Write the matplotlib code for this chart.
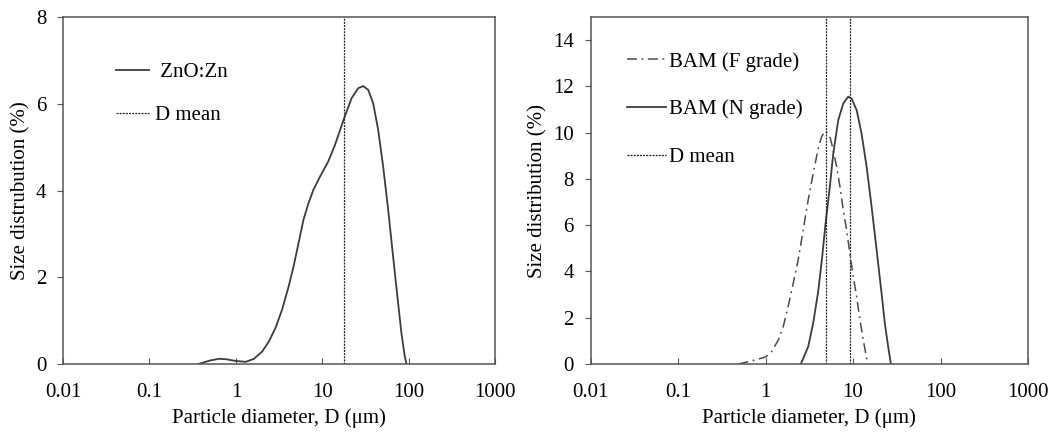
import numpy as np
import matplotlib.pyplot as plt
from matplotlib.ticker import FixedLocator, NullLocator

plt.rcParams['font.family'] = ['Liberation Serif', 'DejaVu Serif']
plt.rcParams['font.size'] = 15

# ZnO:Zn particle size distribution
d_zno = [0.37, 0.5, 0.64, 0.77, 1.0, 1.30, 1.62, 2.02, 2.41, 2.87, 3.42, 4.08,
         4.65, 5.31, 6.06, 6.92, 7.9, 9.4, 11.7, 14.0, 17.9, 21.8, 26.0, 29.7,
         34.0, 38.8, 44.3, 50.6, 57.8, 65.9, 75.3, 82.3, 89.9, 94.0]
p_zno = [0.0, 0.08, 0.12, 0.11, 0.07, 0.05, 0.12, 0.29, 0.52, 0.83, 1.25, 1.79,
         2.25, 2.79, 3.33, 3.71, 4.02, 4.32, 4.67, 5.05, 5.67, 6.13, 6.36, 6.41,
         6.32, 6.01, 5.40, 4.55, 3.56, 2.48, 1.41, 0.71, 0.18, 0.0]
dmean_zno = 18.0

# BAM phosphor, F grade and N grade
d_bam_f = [0.49, 0.7, 1.0, 1.17, 1.40, 1.59, 1.81, 2.07, 2.36, 2.69, 3.07,
           3.50, 4.0, 4.37, 4.8, 5.44, 5.94, 6.49, 7.08, 7.73, 8.44, 9.2,
           10.05, 11.0, 12.0, 13.1, 14.7]
p_bam_f = [0.0, 0.14, 0.30, 0.53, 1.04, 1.61, 2.48, 3.49, 4.50, 5.79, 7.09,
           8.24, 9.32, 9.83, 10.08, 9.83, 9.25, 8.53, 7.67, 6.66, 5.79, 4.78,
           3.78, 2.91, 1.90, 1.04, 0.0]
d_bam_n = [2.53, 3.07, 3.50, 4.0, 4.44, 4.85, 5.44, 5.94, 6.78, 7.73, 8.81,
           9.62, 11.0, 12.5, 14.3, 16.3, 18.6, 21.2, 23.1, 25.2, 27.1]
p_bam_n = [0.0, 0.75, 1.76, 3.15, 4.64, 6.08, 7.70, 9.10, 10.55, 11.27, 11.56,
           11.48, 10.98, 9.97, 8.53, 6.80, 4.93, 3.05, 1.76, 0.75, 0.0]
dmean_bam = [4.85, 9.3]

xticks = [0.01, 0.1, 1, 10, 100, 1000]
xlabels = ['0.01', '0.1', '1', '10', '100', '1000']

line_col = '#3c3c3c'
frame_col = '#555555'

fig = plt.figure(figsize=(10.54, 4.32), dpi=100)
ax1 = fig.add_axes([0.0598, 0.1574, 0.41, 0.803])
ax2 = fig.add_axes([0.5604, 0.1574, 0.4149, 0.803])


def style_axes(ax, ymax, ystep):
    ax.set_xscale('log')
    ax.set_xlim(0.01, 1000)
    ax.set_ylim(0, ymax)
    ax.xaxis.set_major_locator(FixedLocator(xticks))
    ax.xaxis.set_minor_locator(NullLocator())
    ax.set_xticklabels(xlabels)
    ax.set_yticks(np.arange(0, ymax + 0.01, ystep))
    ax.tick_params(axis='x', direction='in', length=4.5, width=0.8,
                   color=frame_col, pad=14, labelsize=15)
    ax.tick_params(axis='y', direction='out', length=4, width=0.8,
                   color=frame_col, pad=8, labelsize=15)
    for s in ax.spines.values():
        s.set_color(frame_col)
        s.set_linewidth(1.1)
    ax.set_xlabel('Particle diameter, D (\u03bcm)', fontsize=15, labelpad=4)


# left panel
style_axes(ax1, 8, 2)
ax1.plot(d_zno, p_zno, color=line_col, lw=1.3, label=' ZnO:Zn')
ax1.axvline(dmean_zno, color='#222222', lw=0.9, ls=(0, (1.6, 0.9)),
            label='D mean')
ax1.set_ylabel('Size distrubution (%)', fontsize=15)
ax1.legend(loc='upper left', bbox_to_anchor=(0.122, 0.868), frameon=False,
           handlelength=1.6, handletextpad=0.3, labelspacing=1.1,
           borderpad=0, borderaxespad=0, fontsize=15)

# right panel
style_axes(ax2, 15, 2)
ax2.set_ylim(0, 15)
ax2.plot(d_bam_f, p_bam_f, color='#4a4a4a', lw=1.1,
         ls=(0, (6.5, 3, 1.2, 3)), label='BAM (F grade)')
ax2.plot(d_bam_n, p_bam_n, color=line_col, lw=1.3, label='BAM (N grade)')
for i, dm in enumerate(dmean_bam):
    ax2.axvline(dm, color='#222222', lw=0.9, ls=(0, (1.6, 0.9)),
                label='D mean' if i == 0 else None)
ax2.set_ylabel('Size distribution (%)', fontsize=15)
ax2.legend(loc='upper left', bbox_to_anchor=(0.084, 0.90), frameon=False,
           handlelength=1.85, handletextpad=0.15, labelspacing=1.35,
           borderpad=0, borderaxespad=0, fontsize=15)

fig.savefig('out.png', dpi=100)
